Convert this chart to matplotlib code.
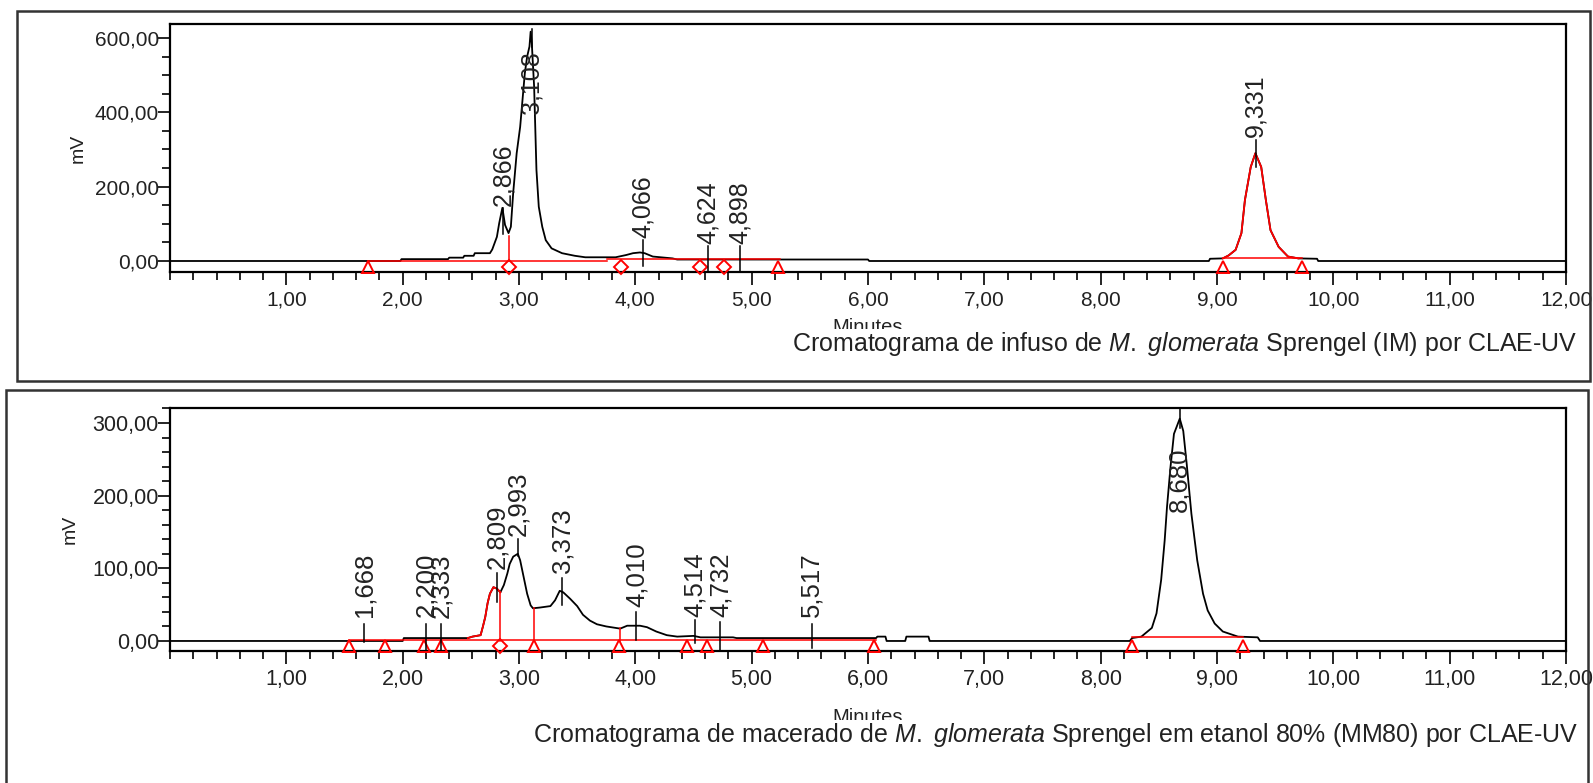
import numpy as np
import matplotlib
matplotlib.use("Agg")
import matplotlib.pyplot as plt
from matplotlib.patches import Rectangle
from matplotlib.ticker import MultipleLocator, FixedLocator, FuncFormatter

plt.rcParams['font.family'] = ['Liberation Sans', 'DejaVu Sans']
plt.rcParams['mathtext.fontset'] = 'custom'
plt.rcParams['mathtext.rm'] = 'Liberation Sans'
plt.rcParams['mathtext.it'] = 'Liberation Sans:italic'

# ---------------- IM (infuso) chromatogram ----------------
im_time = [0.0, 1.98, 1.99, 2.39, 2.40, 2.52, 2.53, 2.61, 2.62, 2.75, 2.77, 2.81, 2.83,
           2.857, 2.88, 2.91, 2.93, 2.95, 2.98, 3.01, 3.03, 3.05, 3.07, 3.09, 3.10, 3.11,
           3.13, 3.15, 3.17, 3.20, 3.23, 3.28, 3.37, 3.48, 3.57, 3.83, 3.92, 3.98, 4.04,
           4.08, 4.15, 4.32, 4.36, 6.00, 6.01, 8.93, 8.94, 9.05, 9.10, 9.16, 9.21, 9.24,
           9.29, 9.33, 9.38, 9.42, 9.46, 9.53, 9.61, 9.70, 9.86, 9.87, 12.0]
im_mv = [0, 0, 5, 5, 9, 9, 14, 14, 21, 21, 31, 65, 102,
         143, 97, 75, 92, 183, 290, 361, 433, 505, 550, 577, 617, 586,
         469, 245, 146, 92, 56, 34, 21, 14, 10, 10, 16, 21, 23,
         21, 12, 7, 4, 4, 0, 0, 6, 7, 15, 30, 75, 164,
         253, 290, 253, 164, 83, 38, 12, 7, 6, 0, 0]
im_red_range = (9.05, 9.73)
im_peak_rt = [2.866, 3.108, 4.066, 4.624, 4.898, 9.331]
im_peak_text = ["2,866", "3,108", "4,066", "4,624", "4,898", "9,331"]
im_label_y = [148, 395, 63, 45, 45, 334]
im_tick_top = [142, 624, 56, 40, 40, 325]
im_tick_bottom = [72, 575, -13, -27, -27, 254]
im_mark_t = [1.70, 2.91, 3.88, 4.56, 4.76, 5.23, 9.05, 9.73]
im_mark_kind = ['^', 'D', 'D', 'D', 'D', '^', '^', '^']
im_base_start = [1.70, 3.76, 9.05]
im_base_end = [3.76, 5.24, 9.73]
im_base_level = [1, 5, 7]
im_drop_t = [2.91]
im_drop_mv = [67]

# ---------------- MM80 (macerado) chromatogram ----------------
mm_time = [0.0, 2.00, 2.01, 2.56, 2.60, 2.67, 2.69, 2.71, 2.73, 2.75, 2.78, 2.81, 2.84,
           2.87, 2.90, 2.92, 2.95, 2.99, 3.01, 3.04, 3.07, 3.10, 3.12, 3.18, 3.27, 3.31,
           3.35, 3.38, 3.44, 3.50, 3.55, 3.61, 3.67, 3.75, 3.87, 3.93, 4.04, 4.10, 4.18,
           4.27, 4.36, 4.50, 4.56, 4.84, 4.87, 6.07, 6.08, 6.15, 6.16, 6.32, 6.33, 6.52,
           6.53, 8.25, 8.27, 8.35, 8.44, 8.48, 8.52, 8.55, 8.57, 8.60, 8.63, 8.68, 8.71,
           8.74, 8.78, 8.83, 8.88, 8.92, 8.98, 9.05, 9.18, 9.35, 9.37, 12.0]
mm_mv = [0, 0, 4, 4, 6, 8, 20, 33, 52, 65, 74, 72, 67,
         77, 93, 106, 116, 120, 111, 88, 65, 49, 45, 46, 48, 56,
         69, 67, 58, 48, 36, 28, 23, 20, 17, 21, 21, 19, 13,
         8, 6, 7, 5, 5, 4, 4, 6, 6, 0, 0, 6, 6,
         0, 0, 4, 6, 18, 38, 84, 138, 184, 239, 285, 306, 289,
         243, 175, 111, 65, 42, 24, 13, 6, 5, 0, 0]
mm_red_range = (2.56, 2.84)
mm_peak_rt = [1.668, 2.200, 2.333, 2.809, 2.993, 3.373, 4.010, 4.514, 4.732, 5.517, 8.680]
mm_peak_text = ["1,668", "2,200", "2,333", "2,809", "2,993", "3,373", "4,010",
                "4,514", "4,732", "5,517", "8,680"]
mm_label_y = [33, 33, 32, 99, 144, 94, 47, 33, 33, 33, 178]
mm_tick_top = [24, 24, 24, 94, 140, 87, 40, 29, 26, 24, 320]
mm_tick_bottom = [-1, -12, -12, 53, 117, 49, 1, -3, -12, -10, 293]
mm_mark_t = [1.54, 1.85, 2.18, 2.33, 2.84, 3.13, 3.86, 4.44, 4.62, 5.10, 6.05, 8.27, 9.22]
mm_mark_kind = ['^', '^', '^', '^', 'D', '^', '^', '^', '^', '^', '^', '^', '^']
mm_base_start = [1.54, 8.27]
mm_base_end = [6.07, 9.22]
mm_base_level = [2, 5]
mm_drop_t = [2.84, 3.13, 3.87]
mm_drop_mv = [67, 45, 18]

x_major = list(range(1, 13))

caption_im = r"Cromatograma de infuso de $\mathit{M.\ glomerata}$ Sprengel (IM) por CLAE-UV"
caption_mm = (r"Cromatograma de macerado de $\mathit{M.\ glomerata}$ Sprengel em etanol 80% "
              r"(MM80) por CLAE-UV")

W, H = 1593, 783
fig = plt.figure(figsize=(W / 100, H / 100), dpi=100)


def px_axes(left, top, right, bottom):
    return [left / W, 1 - bottom / H, (right - left) / W, (bottom - top) / H]


comma = FuncFormatter(lambda v, p: f"{v:.2f}".replace('.', ','))


def draw_panel(ax, t, mv, red_range, ylim, ymajor, yminor, peak_rt, peak_text, label_y,
               tick_top, tick_bottom, mark_t, mark_kind, base_s, base_e, base_l,
               drop_t, drop_mv, mark_y, fs_tick, fs_peak, ylab_x, xlab_y):
    t = np.asarray(t, float)
    mv = np.asarray(mv, float)
    ax.plot(t, mv, color='black', lw=1.3, zorder=3)
    m = (t >= red_range[0]) & (t <= red_range[1])
    ax.plot(t[m], mv[m], color='red', lw=1.3, zorder=4)
    for s, e, l in zip(base_s, base_e, base_l):
        ax.plot([s, e], [l, l], color='red', lw=1.1, zorder=4)
    for dt, dm in zip(drop_t, drop_mv):
        ax.plot([dt, dt], [0, dm], color='red', lw=1.1, zorder=4)
    for mt, mk in zip(mark_t, mark_kind):
        ax.plot([mt], [mark_y], marker=mk, ms=7 if mk == 'D' else 8, mfc='none',
                mec='red', mew=1.4, ls='none', clip_on=False, zorder=5)
    for rt, txt, ly, tt, tb in zip(peak_rt, peak_text, label_y, tick_top, tick_bottom):
        ax.plot([rt, rt], [tb, tt], color='black', lw=1.1, zorder=5, clip_on=False)
        ax.text(rt, ly, txt, rotation=90, ha='center', va='bottom', fontsize=fs_peak,
                color='#222222', zorder=6)
    ax.set_xlim(0, 12)
    ax.set_ylim(*ylim)
    ax.xaxis.set_major_locator(FixedLocator(x_major))
    ax.xaxis.set_minor_locator(MultipleLocator(0.2))
    ax.yaxis.set_major_locator(FixedLocator(ymajor))
    ax.yaxis.set_minor_locator(MultipleLocator(yminor))
    ax.xaxis.set_major_formatter(comma)
    ax.yaxis.set_major_formatter(comma)
    ax.tick_params(axis='both', which='major', direction='out', length=9, width=1.2,
                   labelsize=fs_tick, colors='black', labelcolor='#222222')
    ax.tick_params(axis='both', which='minor', direction='out', length=6, width=1.2)
    ax.tick_params(axis='x', pad=4)
    ax.tick_params(axis='y', pad=-1)
    for sp in ax.spines.values():
        sp.set_linewidth(1.6)
    ax.set_ylabel('mV', fontsize=14, color='#222222')
    ax.yaxis.label.set_va('center')
    ax.yaxis.set_label_coords(ylab_x, 0.5)
    ax.set_xlabel('Minutes', fontsize=14.5, color='#222222')
    ax.xaxis.label.set_va('top')
    ax.xaxis.set_label_coords(0.5, xlab_y)


ax1 = fig.add_axes(px_axes(170, 24, 1566, 272))
draw_panel(ax1, im_time, im_mv, im_red_range, (-29.6, 637.6), [0, 200, 400, 600], 50,
           im_peak_rt, im_peak_text, im_label_y, im_tick_top, im_tick_bottom,
           im_mark_t, im_mark_kind, im_base_start, im_base_end, im_base_level,
           im_drop_t, im_drop_mv, -15, 15, 18, -0.066, -0.185)

ax2 = fig.add_axes(px_axes(170, 408, 1566, 651))
draw_panel(ax2, mm_time, mm_mv, mm_red_range, (-13.8, 320.6), [0, 100, 200, 300], 20,
           mm_peak_rt, mm_peak_text, mm_label_y, mm_tick_top, mm_tick_bottom,
           mm_mark_t, mm_mark_kind, mm_base_start, mm_base_end, mm_base_level,
           mm_drop_t, mm_drop_mv, -7.5, 15.5, 18.5, -0.0716, -0.235)

# outer frames
fig.add_artist(Rectangle((17 / W, 1 - 381 / H), (1590 - 17) / W, (381 - 11) / H,
                         transform=fig.transFigure, fill=False, lw=1.8, ec='#333333'))
fig.add_artist(Rectangle((6 / W, -0.05), (1588 - 6) / W, 1.05 - 390 / H,
                         transform=fig.transFigure, fill=False, lw=1.8, ec='#333333'))

box = dict(facecolor='white', edgecolor='none', pad=1.0)
fig.text(1578 / W, 1 - 344 / H, caption_im, ha='right', va='center', fontsize=18,
         color='#222222', bbox=box, zorder=10)
fig.text(1578 / W, 1 - 735 / H, caption_mm, ha='right', va='center', fontsize=18,
         color='#222222', bbox=box, zorder=10)

fig.savefig('out.png', dpi=100)
